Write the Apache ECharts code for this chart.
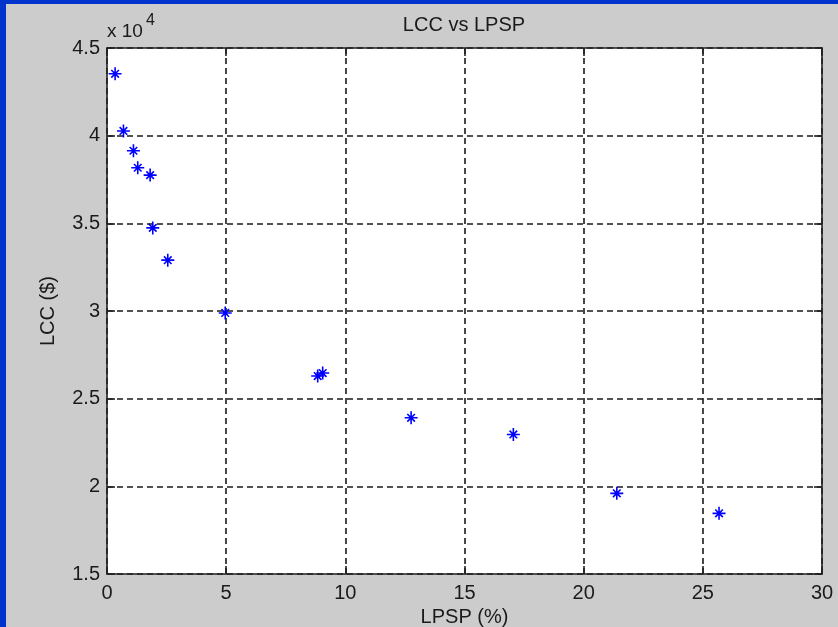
<!DOCTYPE html>
<html>
<head>
<meta charset="utf-8">
<script src="https://cdn.jsdelivr.net/npm/echarts@6/dist/echarts.min.js"></script>
<style>
html,body{margin:0;padding:0;background:#cccccc;}
#c{width:838px;height:627px;}
</style>
</head>
<body>
<div id="c"></div>
<script>
// Data
const lpsp = [0.34, 0.69, 1.11, 1.29, 1.81, 1.92, 2.55, 4.96, 8.84, 9.05, 12.76, 17.05, 21.39, 25.68];
const lcc  = [43530, 40270, 39140, 38170, 37750, 34740, 32900, 29890, 26290, 26460, 23910, 22960, 19600, 18460];
const xTicks = [0, 5, 10, 15, 20, 25, 30];
const yTicks = ['1.5', '2', '2.5', '3', '3.5', '4', '4.5'];
const titleText = 'LCC vs LPSP';
const xName = 'LPSP (%)';
const yName = 'LCC ($)';

const points = lpsp.map((x, i) => [x, lcc[i]]);
const FONT = '"Liberation Sans", Arial, sans-serif';
const TXT = '#1a1a1a';

const chart = echarts.init(document.getElementById('c'), null, {renderer: 'canvas'});

const gridLine = {show: true, lineStyle: {color: '#1a1a1a', width: 1.6, type: [6, 4]}};
const axLine = {show: true, onZero: false, lineStyle: {color: '#222', width: 1.6}};
const tick = {show: true, inside: true, length: 8, lineStyle: {color: '#222', width: 1.6}};

chart.setOption({
  animation: false,
  backgroundColor: '#cccccc',
  graphic: [
    {type: 'rect', shape: {x: 0, y: 0, width: 6, height: 627}, style: {fill: '#0033cc'}, z: 100},
    {type: 'rect', shape: {x: 0, y: 0, width: 838, height: 4}, style: {fill: '#0033cc'}, z: 100},
    {type: 'text', x: 464, y: 25, style: {text: titleText, font: '20px ' + FONT, fill: TXT, textAlign: 'center', textVerticalAlign: 'middle'}},
    {type: 'text', x: 107, y: 32, style: {text: 'x 10', font: '19px ' + FONT, fill: TXT, textAlign: 'left', textVerticalAlign: 'middle'}},
    {type: 'text', x: 146, y: 21, style: {text: '4', font: '16px ' + FONT, fill: TXT, textAlign: 'left', textVerticalAlign: 'middle'}}
  ],
  grid: {left: 107, right: 16, top: 48, bottom: 53, show: true, backgroundColor: '#ffffff', borderWidth: 0, outerBoundsMode: 'none'},
  xAxis: [
    {
      type: 'value', min: xTicks[0], max: xTicks[xTicks.length - 1], interval: 5,
      position: 'bottom',
      name: xName, nameLocation: 'middle', nameGap: 30,
      nameTextStyle: {fontFamily: FONT, fontSize: 20, color: TXT},
      axisLine: axLine, axisTick: tick,
      axisLabel: {show: true, margin: 9, fontFamily: FONT, fontSize: 20, color: TXT, formatter: v => String(v)},
      splitLine: gridLine
    },
    {
      type: 'value', min: xTicks[0], max: xTicks[xTicks.length - 1], interval: 5,
      position: 'top',
      axisLine: axLine, axisTick: tick, axisLabel: {show: false}, splitLine: {show: false}
    }
  ],
  yAxis: [
    {
      type: 'value', min: 15000, max: 45000, interval: 5000,
      position: 'left',
      name: yName, nameLocation: 'middle', nameGap: 49, nameRotate: 90,
      nameTextStyle: {fontFamily: FONT, fontSize: 20, color: TXT},
      axisLine: axLine, axisTick: tick,
      axisLabel: {show: true, margin: 7, fontFamily: FONT, fontSize: 20, color: TXT,
        formatter: v => yTicks[Math.round((v - 15000) / 5000)]},
      splitLine: gridLine
    },
    {
      type: 'value', min: 15000, max: 45000, interval: 5000,
      position: 'right',
      axisLine: axLine, axisTick: tick, axisLabel: {show: false}, splitLine: {show: false}
    }
  ],
  series: [{
    type: 'scatter',
    xAxisIndex: 0, yAxisIndex: 0,
    data: points,
    symbol: 'path://M6,0L6,12M0,6L12,6M2.5,2.5L9.5,9.5M2.5,9.5L9.5,2.5',
    symbolSize: 13,
    itemStyle: {color: '#0000ff', borderColor: '#0000ff', borderWidth: 1.6, opacity: 1},
    z: 10
  }]
});
</script>
</body>
</html>
